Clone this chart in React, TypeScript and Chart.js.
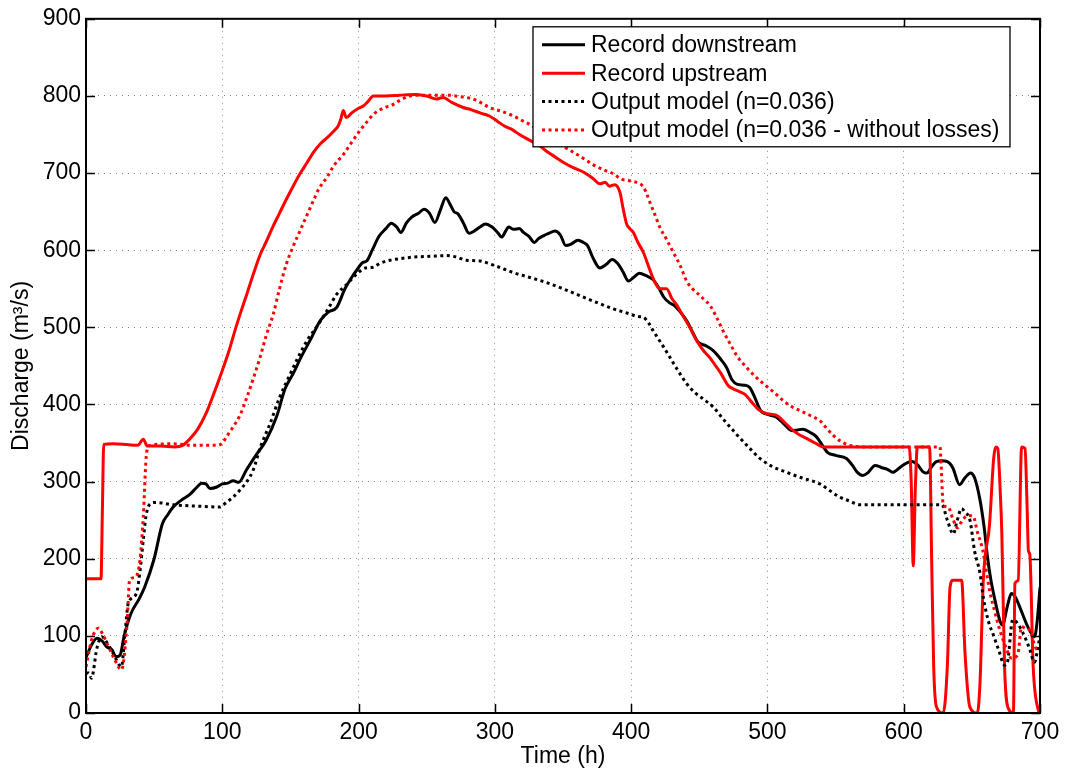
import React, { useEffect, useRef } from "react";
import { Chart, registerables } from "chart.js";

Chart.register(...registerables);

// ---- Data (time in h, discharge in m3/s) ----
const downT = [0, 4, 8, 12, 15, 19, 22, 25, 28, 33, 39, 43, 50, 56, 60, 64, 70, 76, 81, 85, 88, 91, 96, 100, 104, 108, 112, 118, 125, 132, 140, 146, 152, 158, 165, 172, 178, 184, 190, 195, 199, 203, 206, 210, 215, 220, 224, 228, 231, 235, 239, 244, 248, 252, 256, 260, 264, 267, 270, 273, 277, 281, 285, 289, 293, 298, 302, 305, 308, 310, 314, 318, 321, 325, 329, 332, 336, 340, 344, 348, 352, 356, 361, 365, 368, 372, 377, 382, 386, 390, 394, 398, 402, 406, 411, 416, 420, 424, 428, 432, 436, 441, 445, 449, 455, 460, 466, 470, 474, 478, 483, 487, 491, 495, 500, 506, 512, 518, 522, 526, 531, 536, 540, 544, 550, 558, 562, 566, 570, 574, 579, 584, 588, 592, 597, 602, 606, 610, 614, 617, 620, 624, 628, 632, 636, 641, 645, 649, 652, 656, 659, 661.5, 664, 667, 670.5, 672.5, 676, 679, 682, 685, 691, 696, 698, 700];
const downQ = [72, 88, 97, 93, 86, 82, 73, 75, 100, 129, 148, 163, 200, 245, 257, 267, 276, 283, 292, 298, 297, 291, 293, 297, 298, 301, 299, 316, 335, 353, 385, 420, 440, 462, 485, 509, 520, 526, 550, 565, 575, 584, 586, 600, 618, 628, 635, 630, 623, 635, 643, 648, 653, 648, 636, 652, 668, 660, 650, 647, 635, 622, 625, 630, 634, 630, 623, 617, 625, 630, 627, 628, 623, 618, 610, 615, 619, 622, 625, 620, 606, 608, 613, 610, 606, 590, 577, 582, 588, 583, 572, 560, 565, 570, 567, 562, 552, 539, 532, 528, 520, 508, 494, 481, 476, 470, 458, 448, 432, 426, 425, 422, 408, 392, 387, 384, 375, 366, 367, 368, 364, 358, 348, 338, 334, 330, 322, 312, 308, 312, 321, 318, 316, 312, 318, 324, 326, 322, 313, 311, 318, 326, 327, 326, 318, 296, 305, 311, 305, 276, 241, 202, 172, 146, 120, 114, 138, 155, 150, 138, 112, 99, 120, 163];

const upT = [0, 11, 12, 13, 20, 30, 38, 42, 45, 55, 65, 71, 76, 82, 88, 94, 100, 105, 110, 114, 118, 123, 128, 132, 137, 142, 147, 152, 157, 162, 167, 172, 177, 181, 185, 187, 188.8, 191, 195, 200, 203.5, 207, 210.8, 220, 230, 242, 250, 257, 262, 268, 276.8, 283, 289, 296, 302, 307, 313, 318, 325, 333, 339, 345, 351, 357.5, 363, 367, 372, 377, 381, 384, 388, 391.8, 394, 396.7, 399, 401.6, 405, 409, 413, 417, 421, 426, 430, 433, 438, 443, 448, 453, 458, 462, 466, 471, 475, 479, 483.5, 488, 494.5, 500, 506.7, 513, 519, 524, 528.7, 535, 541, 550, 563, 580, 595, 604, 605.5, 607, 608.5, 610, 619, 620.5, 622, 624, 629, 632, 634, 636, 642.5, 645, 648.5, 654, 656, 658.4, 663, 666, 667.5, 669, 671, 672, 674, 677, 680.5, 681.6, 684, 686.5, 689, 690.5, 691.5, 692.5, 695, 698.7, 700];
const upQ = [174, 174, 260, 348, 349, 348, 347, 355, 346, 346, 345, 347, 355, 368, 388, 415, 444, 470, 500, 522, 543, 570, 595, 610, 630, 648, 666, 683, 699, 713, 727, 738, 746, 753, 761, 770, 781, 772, 778, 784, 787, 793, 800, 800, 801, 802, 800, 796, 798, 792, 785, 782, 778, 774, 767, 761, 756, 750, 743, 735, 727, 720, 713, 707, 703, 699, 693, 686, 688, 683, 685, 675, 655, 634, 628, 623, 610, 597, 578, 560, 550, 550, 537, 530, 515, 500, 483, 470, 460, 450, 440, 425, 420, 417, 413, 404, 392, 388, 386, 376, 366, 360, 356, 350, 345, 345, 345, 345, 345, 345, 300, 191, 290, 345, 345, 200, 60, 8, 0, 60, 163, 172, 172, 77, 8, 0, 40, 172, 245, 330, 345, 343, 280, 232, 60, 5, 0, 168, 172, 345, 343, 270, 210, 206, 60, 4, 0];

const modelT = [0, 2, 4, 8, 11.5, 14, 20, 26, 28.6, 31, 37, 40, 42, 44, 47, 51, 64, 84, 98, 103, 108, 113, 118, 122.7, 128, 135, 142, 150, 157, 163, 169, 177, 184, 191, 198.6, 205, 210.8, 215.7, 223, 230, 240, 252, 264.6, 272, 279, 289, 300, 313.5, 325, 338, 350, 362.5, 375, 387, 398, 405, 409, 413, 416, 420, 424, 428.5, 434, 440.7, 447, 453, 460, 468, 477, 486, 494.5, 503, 514, 525, 538.5, 546, 553, 560, 568, 580, 600, 615, 628, 632, 636.4, 639, 642.5, 645, 648.6, 652, 656, 658.4, 662, 666, 670, 674, 676, 680, 684, 687.7, 692, 696, 698, 700];
const modelQ = [52, 52, 45, 84, 99, 95, 77, 60, 103, 142, 155, 190, 224, 255, 271, 273, 270, 268, 267, 273, 280, 289, 300, 315, 345, 375, 409, 440, 466, 485, 500, 522, 543, 555, 569, 577, 578, 583, 587, 589, 591, 592, 593, 591, 587, 586, 580, 571, 565, 558, 550, 541, 532, 524, 518, 514, 513, 505, 496, 485, 474, 461, 445, 427, 415, 407, 397, 380, 362, 345, 330, 320, 312, 305, 297, 288, 280, 275, 270, 270, 270, 270, 270, 250, 232, 248, 265, 260, 250, 210, 181, 150, 120, 100, 80, 62, 65, 121, 115, 103, 85, 66, 80, 100];

const nolossT = [0, 4, 9, 12, 16, 20, 26, 30, 32, 36, 39.6, 42, 44.5, 47, 64, 78.7, 96, 100, 103, 108, 113, 118, 123, 127.7, 132, 137.4, 142, 147, 152, 157, 162, 166.8, 171, 176.6, 182, 188.8, 195, 201, 206, 210.8, 218, 225.5, 230, 237.7, 245, 255, 264.6, 275, 284, 290, 296, 305, 313.5, 320, 325.8, 335, 343, 350, 357.5, 365, 372, 380, 387, 393, 399, 406.5, 409, 411, 414, 417, 421, 426, 431, 436, 440.7, 445, 450, 453, 458, 462.7, 467, 472.5, 478, 484.7, 490, 497, 504, 511.6, 518, 523.9, 531, 538.5, 543, 548.3, 554, 560.5, 570, 590, 610, 626.6, 627.5, 629, 632.6, 636, 639.5, 643, 647.4, 651, 654, 658, 663, 667, 670.6, 675, 679, 683.7, 686.5, 689, 692.6, 697, 700];
const nolossQ = [60, 94, 110, 103, 88, 73, 56, 112, 172, 176, 198, 254, 338, 347, 349, 347, 347, 350, 358, 371, 386, 409, 435, 461, 488, 517, 550, 582, 605, 625, 645, 664, 680, 694, 710, 724, 740, 755, 766, 776, 784, 789, 794, 800, 801, 801, 801, 799, 796, 791, 785, 780, 774, 768, 763, 752, 744, 735, 727, 719, 711, 704, 699, 692, 690, 686, 682, 675, 661, 648, 630, 614, 597, 580, 560, 550, 542, 537, 528, 513, 497, 479, 462, 448, 438, 427, 417, 405, 397, 392, 386, 379, 370, 360, 352, 347, 345, 345, 345, 345, 320, 270, 267, 252, 240, 250, 256, 255, 235, 211, 159, 130, 107, 85, 71, 76, 112, 110, 107, 84, 82];

const seriesLabels = [
  "Record downstream",
  "Record upstream",
  "Output model (n=0.036)",
  "Output model (n=0.036 - without losses)",
];

const xMin = 0, xMax = 700, xStep = 100;
const yMin = 0, yMax = 900, yStep = 100;

const FONT_FAMILY = '"Liberation Sans", Arial, Helvetica, sans-serif';

function pts(t: number[], q: number[]) {
  return t.map((x, i) => ({ x, y: q[i] }));
}

const framePlugin = {
  id: "matlabFrame",
  afterDraw(chart: any) {
    const ctx: CanvasRenderingContext2D = chart.ctx;
    const { left, right, top, bottom } = chart.chartArea;
    const xs = chart.scales.x;
    const ys = chart.scales.y;
    const tickLen = 9;
    ctx.save();
    ctx.setLineDash([]);
    ctx.strokeStyle = "#000";
    ctx.lineWidth = 1.5;
    ctx.beginPath();
    xs.ticks.forEach((t: any) => {
      const px = Math.round(xs.getPixelForValue(t.value)) + 0.5;
      ctx.moveTo(px, bottom);
      ctx.lineTo(px, bottom - tickLen);
      ctx.moveTo(px, top);
      ctx.lineTo(px, top + tickLen);
    });
    ys.ticks.forEach((t: any) => {
      const py = Math.round(ys.getPixelForValue(t.value)) + 0.5;
      ctx.moveTo(left, py);
      ctx.lineTo(left + tickLen, py);
      ctx.moveTo(right, py);
      ctx.lineTo(right - tickLen, py);
    });
    ctx.stroke();
    ctx.lineWidth = 2;
    ctx.strokeRect(left, top, right - left, bottom - top);

    // legend box
    const lw = 477;
    const lh = 120;
    const lx = right - 30 - lw;
    const ly = top + 8;
    ctx.fillStyle = "#fff";
    ctx.fillRect(lx, ly, lw, lh);
    ctx.lineWidth = 1.3;
    ctx.strokeStyle = "#000";
    ctx.strokeRect(lx, ly, lw, lh);
    ctx.font = `23px ${FONT_FAMILY}`;
    ctx.textBaseline = "middle";
    ctx.textAlign = "left";
    chart.data.datasets.forEach((ds: any, i: number) => {
      const cy = ly + 18 + i * 28.4;
      ctx.beginPath();
      ctx.setLineDash(ds.borderDash || []);
      ctx.strokeStyle = ds.borderColor;
      ctx.lineWidth = ds.borderWidth;
      ctx.moveTo(lx + 9, cy);
      ctx.lineTo(lx + 52, cy);
      ctx.stroke();
      ctx.setLineDash([]);
      ctx.fillStyle = "#000";
      ctx.fillText(ds.label, lx + 58, cy + 1);
    });
    ctx.restore();
  },
};

export default function App() {
  const ref = useRef<HTMLCanvasElement | null>(null);

  useEffect(() => {
    if (!ref.current) return;
    const font = { family: FONT_FAMILY, size: 23 };
    const common = {
      pointRadius: 0,
      borderWidth: 3,
      fill: false,
      cubicInterpolationMode: "monotone" as const,
    };
    const dotted = [3, 3.5];
    const chart = new Chart(ref.current, {
      type: "line",
      data: {
        datasets: [
          { ...common, order: 4, label: seriesLabels[0], data: pts(downT, downQ), borderColor: "#000000" },
          { ...common, order: 3, label: seriesLabels[1], data: pts(upT, upQ), borderColor: "#ff0000" },
          { ...common, order: 2, label: seriesLabels[2], data: pts(modelT, modelQ), borderColor: "#000000", borderDash: dotted },
          { ...common, order: 1, label: seriesLabels[3], data: pts(nolossT, nolossQ), borderColor: "#ff0000", borderDash: dotted },
        ],
      },
      options: {
        responsive: false,
        animation: false,
        layout: { padding: { left: 0, right: 27, top: 17, bottom: 0 } },
        plugins: {
          legend: { display: false },
          tooltip: { enabled: false },
        },
        scales: {
          x: {
            type: "linear",
            min: xMin,
            max: xMax,
            ticks: { stepSize: xStep, padding: 6, font, color: "#000", maxRotation: 0 },
            grid: { color: "#8a8a8a", lineWidth: 1, drawTicks: false },
            border: { display: false, dash: [1, 5] },
            title: { display: true, text: "Time (h)", font, color: "#000", padding: { top: 0, bottom: 3 } },
            afterFit: (s: any) => { s.height = 60; },
          },
          y: {
            type: "linear",
            min: yMin,
            max: yMax,
            ticks: { stepSize: yStep, padding: 5, font, color: "#000" },
            grid: { color: "#8a8a8a", lineWidth: 1, drawTicks: false },
            border: { display: false, dash: [1, 5] },
            title: { display: true, text: "Discharge (m³/s)", font, color: "#000", padding: { top: 8, bottom: 0 } },
            afterFit: (s: any) => { s.width = 86; },
          },
        },
      },
      plugins: [framePlugin],
    } as any);
    return () => chart.destroy();
  }, []);

  return (
    <div style={{ position: "fixed", left: 0, top: 0, width: 1067, height: 773, background: "#fff" }}>
      <canvas ref={ref} width={1067} height={773} style={{ width: 1067, height: 773, display: "block" }} />
    </div>
  );
}
